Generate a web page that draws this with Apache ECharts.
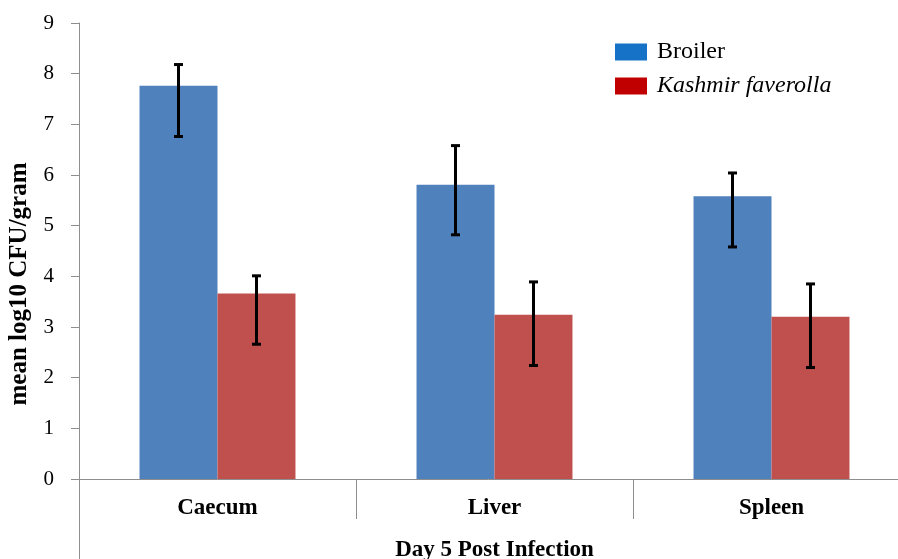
<!DOCTYPE html>
<html>
<head>
<meta charset="utf-8">
<script src="https://cdn.jsdelivr.net/npm/echarts@6/dist/echarts.min.js"></script>
<style>
html,body{margin:0;padding:0;background:#fff;}
#main{width:898px;height:559px;}
</style>
</head>
<body>
<div id="main"></div>
<script>
// ---- data ----
var categories = ['Caecum', 'Liver', 'Spleen'];
var seriesNames = ['Broiler', 'Kashmir faverolla'];
var broilerMean  = [7.76, 5.81, 5.58];
var broilerUpper = [8.18, 6.58, 6.04];
var broilerLower = [6.76, 4.82, 4.58];
var kashmirMean  = [3.66, 3.24, 3.20];
var kashmirUpper = [4.01, 3.89, 3.85];
var kashmirLower = [2.66, 2.24, 2.20];
var yTicks = [0, 1, 2, 3, 4, 5, 6, 7, 8, 9];
var xAxisTitle = 'Day 5 Post Infection';
var yAxisTitle = 'mean log10 CFU/gram';

// ---- style ----
var FONT = '"Liberation Serif", "Times New Roman", serif';
var AXIS = '#8e8e8e';
var barColors = ['#4F81BD', '#C0504D'];
var legendColors = ['#1672C6', '#C00000'];
var catGap = 0.437;
var gridLeft = 79, gridTop = 23, gridHeight = 456, gridWidth = 831;

function errData(lower, upper) {
  return categories.map(function (c, i) { return [i, lower[i], upper[i]]; });
}
function makeErr(side) {
  return function (params, api) {
    var band = api.size([1, 0])[0];
    var barW = band * (1 - catGap) / 2;
    var lo = api.coord([api.value(0), api.value(1)]);
    var hi = api.coord([api.value(0), api.value(2)]);
    var x = lo[0] + side * barW / 2;
    var cap = 4.5;
    var st = { stroke: '#000', lineWidth: 3 };
    return {
      type: 'group',
      children: [
        { type: 'line', shape: { x1: x, y1: lo[1], x2: x, y2: hi[1] }, style: st },
        { type: 'line', shape: { x1: x - cap, y1: lo[1], x2: x + cap, y2: lo[1] }, style: st },
        { type: 'line', shape: { x1: x - cap, y1: hi[1], x2: x + cap, y2: hi[1] }, style: st }
      ]
    };
  };
}

var chart = echarts.init(document.getElementById('main'), null, { renderer: 'canvas' });
var option = {
  animation: false,
  backgroundColor: '#fff',
  grid: { left: gridLeft, top: gridTop, width: gridWidth, height: gridHeight, containLabel: false, outerBoundsMode: 'none' },
  legend: {
    left: 610, top: 35, orient: 'vertical',
    itemWidth: 32, itemHeight: 17, itemGap: 10,
    icon: 'rect',
    data: [
      { name: seriesNames[0], itemStyle: { color: legendColors[0] } },
      { name: seriesNames[1], itemStyle: { color: legendColors[1] } }
    ],
    formatter: function (n) { return n === seriesNames[0] ? '{n|' + n + '}' : '{i|' + n + '}'; },
    textStyle: {
      padding: [0, 0, 0, 5],
      rich: {
        n: { fontFamily: FONT, fontSize: 24, color: '#000' },
        i: { fontFamily: FONT, fontSize: 24, fontStyle: 'italic', color: '#000' }
      }
    }
  },
  xAxis: {
    type: 'category',
    data: categories,
    boundaryGap: true,
    axisLine: { lineStyle: { color: AXIS, width: 1 } },
    axisTick: { show: true, length: 40, alignWithLabel: false, interval: 0, lineStyle: { color: AXIS } },
    axisLabel: { margin: 18, fontFamily: FONT, fontSize: 23, fontWeight: 'bold', color: '#000' },
    name: xAxisTitle,
    nameLocation: 'middle',
    nameGap: 60,
    nameTextStyle: { fontFamily: FONT, fontSize: 23, fontWeight: 'bold', color: '#000' }
  },
  yAxis: {
    type: 'value',
    min: yTicks[0], max: yTicks[yTicks.length - 1], interval: 1,
    splitLine: { show: false },
    axisLine: { show: true, lineStyle: { color: AXIS, width: 1 } },
    axisTick: { show: true, length: 8, inside: false, lineStyle: { color: AXIS } },
    axisLabel: { margin: 25, fontFamily: FONT, fontSize: 21, color: '#000' },
    name: yAxisTitle,
    nameLocation: 'middle',
    nameGap: 47,
    nameTextStyle: { fontFamily: FONT, fontSize: 25, fontWeight: 'bold', color: '#000', padding: [0, 66, 0, 0] }
  },
  series: [
    { name: seriesNames[0], type: 'bar', data: broilerMean, barGap: '0%', barCategoryGap: (catGap * 100) + '%', itemStyle: { color: barColors[0] } },
    { name: seriesNames[1], type: 'bar', data: kashmirMean, barGap: '0%', barCategoryGap: (catGap * 100) + '%', itemStyle: { color: barColors[1] } },
    { type: 'custom', renderItem: makeErr(-1), data: errData(broilerLower, broilerUpper), encode: { x: 0, y: [1, 2] }, z: 10, silent: true },
    { type: 'custom', renderItem: makeErr(1), data: errData(kashmirLower, kashmirUpper), encode: { x: 0, y: [1, 2] }, z: 10, silent: true }
  ]
};
chart.setOption(option);
var y0 = chart.convertToPixel({ yAxisIndex: 0 }, 0);
chart.setOption({
  graphic: [{
    type: 'line', silent: true,
    shape: { x1: gridLeft + 0.5, y1: y0, x2: gridLeft + 0.5, y2: 559 },
    style: { stroke: AXIS, lineWidth: 1 }
  }]
});
</script>
</body>
</html>
